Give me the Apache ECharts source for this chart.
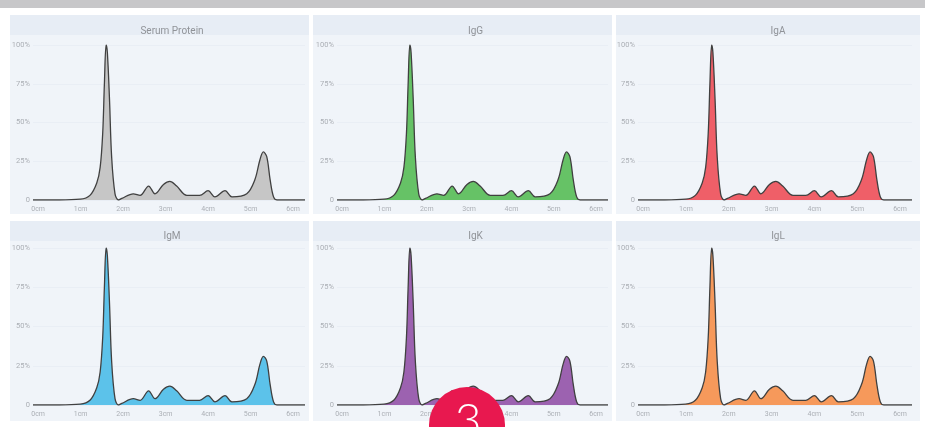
<!DOCTYPE html>
<html><head><meta charset="utf-8">
<script src="https://cdn.jsdelivr.net/npm/echarts@6/dist/echarts.min.js"></script>
<style>html,body{margin:0;padding:0;background:#fff}#c{width:925px;height:427px}</style>
</head><body><div id="c"></div>
<script>
// Data
const panelTitles = ['Serum Protein', 'IgG', 'IgA', 'IgM', 'IgK', 'IgL'];
const xTickLabels = ['0cm', '1cm', '2cm', '3cm', '4cm', '5cm', '6cm'];
const yTickLabels = ['0', '25%', '50%', '75%', '100%'];
const positions = [-0.12, 0.5, 0.99, 1.22, 1.38, 1.46, 1.52, 1.56, 1.6, 1.63, 1.68, 1.73, 1.81, 1.89, 1.97, 2.24, 2.4, 2.6, 2.75, 2.95, 3.1, 3.26, 3.5, 3.8, 4.0, 4.16, 4.4, 4.56, 4.91, 5.1, 5.22, 5.3, 5.38, 5.46, 5.54, 5.62, 6.28];
const serumProtein = [0, 0, 0.5, 3, 11, 21, 43, 75, 100, 95, 65, 28, 4, 0, 1, 4, 3, 9, 4, 10, 12, 9, 3, 3, 6, 2, 6, 2, 4, 13, 26, 31, 28, 13, 2, 0, 0];
const igG = [0, 0, 0.5, 3, 11, 21, 43, 75, 100, 95, 65, 28, 4, 0, 1, 4, 3, 9, 4, 10, 12, 9, 3, 3, 6, 2, 6, 2, 4, 13, 26, 31, 28, 13, 2, 0, 0];
const igA = [0, 0, 0.5, 3, 11, 21, 43, 75, 100, 95, 65, 28, 4, 0, 1, 4, 3, 9, 4, 10, 12, 9, 3, 3, 6, 2, 6, 2, 4, 13, 26, 31, 28, 13, 2, 0, 0];
const igM = [0, 0, 0.5, 3, 11, 21, 43, 75, 100, 95, 65, 28, 4, 0, 1, 4, 3, 9, 4, 10, 12, 9, 3, 3, 6, 2, 6, 2, 4, 13, 26, 31, 28, 13, 2, 0, 0];
const igK = [0, 0, 0.5, 3, 11, 21, 43, 75, 100, 95, 65, 28, 4, 0, 1, 4, 3, 9, 4, 10, 12, 9, 3, 3, 6, 2, 6, 2, 4, 13, 26, 31, 28, 13, 2, 0, 0];
const igL = [0, 0, 0.5, 3, 11, 21, 43, 75, 100, 95, 65, 28, 4, 0, 1, 4, 3, 9, 4, 10, 12, 9, 3, 3, 6, 2, 6, 2, 4, 13, 26, 31, 28, 13, 2, 0, 0];
const panelValues = [serumProtein, igG, igA, igM, igK, igL];
const panelColors = ['#c6c6c6', '#66c266', '#ef5f68', '#5cc2ea', '#9c62b0', '#f6995b'];

// Layout (styles)
const cols = [{px: 10, pw: 299, gl: 33, gw: 272}, {px: 313, pw: 299, gl: 337, gw: 271}, {px: 616, pw: 304, gl: 638, gw: 274}];
const rows = [{py: 15, ph: 199, gt: 45, gh: 155, ty: 21}, {py: 221, ph: 200, gt: 248, gh: 157, ty: 226}];

const chart = echarts.init(document.getElementById('c'), null, {renderer: 'canvas'});
const grids = [], xAxes = [], yAxes = [], series = [], titles = [], graphics = [];
graphics.push({type: 'rect', shape: {x: 0, y: 0, width: 925, height: 8}, style: {fill: '#c7c7c9'}, z: -10});
panelTitles.forEach((t, i) => {
  const c = cols[i % 3], r = rows[Math.floor(i / 3)];
  graphics.push({type: 'rect', shape: {x: c.px, y: r.py, width: c.pw, height: r.ph}, style: {fill: '#f0f4f9'}, z: -10, silent: true});
  graphics.push({type: 'rect', shape: {x: c.px, y: r.py, width: c.pw, height: 20}, style: {fill: '#e7edf5'}, z: -9, silent: true});
  grids.push({left: c.gl, top: r.gt, width: c.gw, height: r.gh, containLabel: false});
  titles.push({text: t, left: c.gl + c.gw / 2 - 2, top: r.ty, textAlign: 'center',
    textStyle: {fontSize: 10, fontWeight: 'normal', color: '#909398', fontFamily: 'Roboto'}});
  xAxes.push({type: 'value', gridIndex: i, min: -0.12, max: 6.28, splitNumber: 6,
    axisLine: {show: false}, axisTick: {show: false}, splitLine: {show: false},
    axisLabel: {fontSize: 7, color: '#abafb5', margin: 6, fontFamily: 'Roboto',
      formatter: v => (Math.abs(v - Math.round(v)) < 1e-6 && xTickLabels[Math.round(v)] !== undefined) ? xTickLabels[Math.round(v)] : ''}});
  yAxes.push({type: 'value', gridIndex: i, min: 0, max: 100, interval: 25,
    axisLine: {show: false}, axisTick: {show: false},
    splitLine: {show: true, lineStyle: {color: '#e9eef5', width: 1}},
    axisLabel: {fontSize: 7.5, color: '#abafb5', margin: 3, fontFamily: 'Roboto',
      formatter: v => yTickLabels[Math.round(v / 25)]}});
  series.push({type: 'line', xAxisIndex: i, yAxisIndex: i, smooth: 0.35, symbol: 'none',
    data: positions.map((p, k) => [p, panelValues[i][k]]),
    lineStyle: {color: '#404040', width: 1.3},
    areaStyle: {color: panelColors[i], opacity: 1}});
});
graphics.push({type: 'circle', shape: {cx: 467, cy: 425, r: 38}, style: {fill: '#e8184f'}, z: 100});
graphics.push({type: 'text', x: 468, y: 398, style: {text: '3', fill: '#ffffff', fontSize: 46, fontWeight: 300, fontFamily: 'Lato', align: 'center', verticalAlign: 'top'}, z: 101});

chart.setOption({
  animation: false,
  backgroundColor: '#ffffff',
  title: titles,
  grid: grids,
  xAxis: xAxes,
  yAxis: yAxes,
  series: series,
  graphic: graphics
});
</script></body></html>
